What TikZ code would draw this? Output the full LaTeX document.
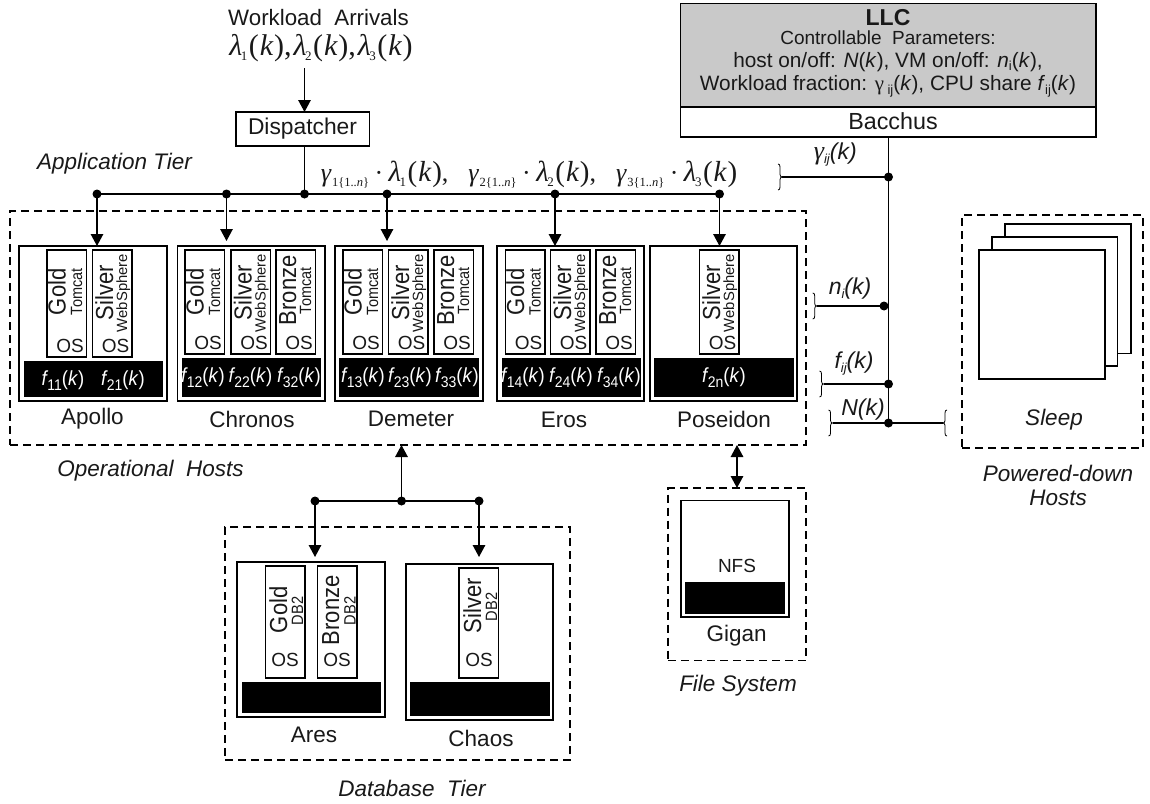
\documentclass[tikz,border=0pt]{standalone}
\usepackage{fontspec}
\usepackage{graphicx}
\setmainfont{Liberation Sans}
\newfontfamily\tms{Liberation Serif}
\usetikzlibrary{arrows.meta,fit}
\newcommand{\fz}[1]{\fontsize{#1}{#1}\selectfont}
% text helpers
\newcommand{\tall}[1]{\scalebox{1}[1.12]{#1}}
\newcommand{\fsub}[1]{\scalebox{1}[1.1]{\textit{f}\kern-1pt\raisebox{-4.5pt}{\fz{14}#1}(\textit{k})}}
\newcommand{\lam}[1]{{\tms\itshape λ}\kern-1.5pt\raisebox{-5pt}{\tms\fz{13}#1}\kern1.5pt{\tms(\kern1pt\itshape k\kern1pt\upshape)}}
\newcommand{\gam}[1]{{\tms\itshape γ}\kern1pt\raisebox{-5pt}{\tms\fz{12.5}#1\{1..\textit{n}\}}}
\newcommand{\gterm}[1]{\gam{#1}\kern5.5pt{\tms\textperiodcentered}\kern5.5pt{\fz{29}\lam{#1}}}
\tikzset{
  x=1pt,y=-1pt,
  line width=1.3pt,
  txt/.style={inner sep=0pt,outer sep=0pt,align=center,text=black!90},
  lab/.style={txt,font=\fz{22.5}},
  ital/.style={txt,font=\fz{22.5}\itshape},
  vmbox/.style={draw,fill=white,inner sep=0pt,outer sep=0pt,line width=1.1pt},
  hostbox/.style={draw,fill=white,inner sep=0pt,outer sep=0pt,line width=1.2pt},
  bar/.style={fill=black,inner sep=0pt,outer sep=0pt},
  dash box/.style={draw,dash pattern=on 8pt off 5pt,inner sep=0pt,outer sep=0pt,line width=1.1pt},
  bus/.style={line width=1.4pt},
  dotn/.style={circle,fill=black,inner sep=0pt,minimum size=9pt,outer sep=0pt},
  arr/.style={line width=1.4pt,-{Triangle[length=12pt,width=12.5pt]}},
  darr/.style={line width=1.4pt,{Triangle[length=12pt,width=12.5pt]}-{Triangle[length=12pt,width=12.5pt]}},
  brc/.style={line width=0.8pt},
  rottxt/.style={rotate=90,anchor=base west,inner sep=0pt,outer sep=0pt,text=black!90},
  ftxt/.style={inner sep=0pt,text=white,font=\fz{18.5}},
}
\newcommand{\rect}[6]{\node[#1,fit={(#3,#4) (#5,#6)}] (#2) {};}
% id, x, top, bot, os-x-offset, os-y
\newcommand{\vmrect}[6]{\node[vmbox,fit={(#2,#3) (#2+39.5,#4)}] (#1) {};
  \node[txt,font=\fz{19}] (#1os) at (#2+#5,#6) {OS};}
\newcommand{\goldvm}[4]{\vmrect{#1}{#2}{#3}{#4}{23}{#4-11}
  \node[rottxt,font=\fz{22}] (#1n) at (#2+18.5,#3+65) {\tall{Gold}};
  \node[rottxt,font=\fz{14.5}] (#1s) at (#2+35,#3+65) {\tall{Tomcat}};}
\newcommand{\silvervm}[4]{\vmrect{#1}{#2}{#3}{#4}{23}{#4-11}
  \node[rottxt,font=\fz{22}] (#1n) at (#2+20.5,#3+70) {\tall{Silver}};
  \node[rottxt,font=\fz{14.8}] (#1s) at (#2+34.5,#3+82) {WebSphere};}
\newcommand{\bronzevm}[4]{\vmrect{#1}{#2}{#3}{#4}{23}{#4-11}
  \node[rottxt,font=\fz{22}] (#1n) at (#2+20,#3+75) {\tall{Bronze}};
  \node[rottxt,font=\fz{14.5}] (#1s) at (#2+35,#3+64) {\tall{Tomcat}};}
% right-closing brace with tip at (#1,#2): direction +1 = }, -1 = {
\newcommand{\brc}[3]{\begin{scope}[shift={(#1,#2)},xscale=#3]
  \draw[brc] (-4,-13) .. controls (-2.6,-13) and (-2,-12) .. (-2,-10) -- (-2,-2.5)
     .. controls (-2,-1) and (-1,0) .. (0,0) .. controls (-1,0) and (-2,1) .. (-2,2.5)
     -- (-2,10) .. controls (-2,12) and (-2.6,13) .. (-4,13);
  \end{scope}}
\begin{document}
\begin{tikzpicture}
\useasboundingbox (0,0) rectangle (1150,803);
\fill[white] (0,0) rectangle (1150,803);

% --- top
\node[lab,font=\fz{22.3}] (arrivals) at (318.5,18) {Workload\ \ Arrivals};
\node[txt,font=\fz{30}] (lambdas) at (321,48) {\lam{1}{\tms,}\kern2pt\lam{2}{\tms,}\kern2pt\lam{3}};
\rect{draw,fill=white,inner sep=0pt,outer sep=0pt,line width=1.2pt}{disp}{236}{112}{369.5}{146}
\node[lab,font=\fz{22.8}] (displab) at (302.5,129) {Dispatcher};
\coordinate (arrtop) at (304.5,68);
\draw[arr] (arrtop) -- (arrtop |- disp.north);
\node[txt,font=\fz{26}] (gamline) at (529,175) {\gterm{1}{\tms,}\hspace{20pt}\gterm{2}{\tms,}\hspace{20pt}\gterm{3}};
\node[ital] (apptier) at (114.5,164) {Application Tier};

% --- LLC
\rect{draw,fill=black!21,inner sep=0pt,outer sep=0pt,line width=1.2pt}{llc}{680.5}{3.5}{1096}{107}
\rect{draw,fill=white,inner sep=0pt,outer sep=0pt,line width=1.2pt}{bacchus}{680.5}{107}{1096}{137}
\node[txt,font=\fz{23}\bfseries] (llcname) at (888,18) {LLC};
\node[txt,font=\fz{19}] (llc1) at (888,38) {Controllable\ \ Parameters:};
\node[txt,font=\fz{20.8}] (llc2) at (888,62) {host on/off: \textit{N}(\textit{k}), VM on/off: \textit{n}\raisebox{-3pt}{\fz{13}i}(\textit{k}),};
\node[txt,font=\fz{20.8}] (llc3) at (888,86) {Workload fraction: {\tms γ}\,\raisebox{-4pt}{\fz{13}ij}(\textit{k}), CPU share \textit{f}\raisebox{-4pt}{\fz{13}ij}(\textit{k})};
\node[lab,font=\fz{23.3}] (bacchuslab) at (893,121) {Bacchus};

% --- operational hosts
\node[dash box,fit={(10,211) (806,445)}] (ops) {};
\node[ital] (opslab) at (150.5,471) {Operational\ \ Hosts};

\rect{hostbox}{apollo}{19}{246}{167}{401}
\rect{hostbox}{chronos}{177.5}{246}{325}{401}
\rect{hostbox}{demeter}{335}{246}{483}{401}
\rect{hostbox}{eros}{497}{246}{644}{401}
\rect{hostbox}{poseidon}{650}{246}{797}{401}

\rect{bar}{bar1}{23.5}{361}{163}{397}
\rect{bar}{bar2}{181.5}{358}{321}{397}
\rect{bar}{bar3}{339}{358}{479}{397}
\rect{bar}{bar4}{501.5}{358}{641}{397}
\rect{bar}{bar5}{654}{358}{794}{397}

\goldvm{a1}{47}{250}{357}
\silvervm{a2}{92.5}{250}{357}
\goldvm{c1}{185}{250}{354}
\silvervm{c2}{231}{250}{354}
\bronzevm{c3}{276}{250}{354}
\goldvm{d1}{343}{250}{354}
\silvervm{d2}{388.5}{250}{354}
\bronzevm{d3}{434}{250}{354}
\goldvm{e1}{505.5}{250}{354}
\silvervm{e2}{550.5}{250}{354}
\bronzevm{e3}{596}{250}{354}
\silvervm{p1}{699.5}{250}{354}

\node[ftxt] (f11) at (63,381) {\fsub{11}};
\node[ftxt] (f21) at (123,381) {\fsub{21}};
\node[ftxt] (f12) at (203,378) {\fsub{12}};
\node[ftxt] (f22) at (250.5,378) {\fsub{22}};
\node[ftxt] (f32) at (299,378) {\fsub{32}};
\node[ftxt] (f13) at (363,378) {\fsub{13}};
\node[ftxt] (f23) at (410,378) {\fsub{23}};
\node[ftxt] (f33) at (457,378) {\fsub{33}};
\node[ftxt] (f14) at (523,378) {\fsub{14}};
\node[ftxt] (f24) at (571,378) {\fsub{24}};
\node[ftxt] (f34) at (619,378) {\fsub{34}};
\node[ftxt] (f2n) at (724,378) {\fsub{2n}};

\node[lab] (apollolab) at (92.5,419) {Apollo};
\node[lab] (chronoslab) at (252,419) {Chronos};
\node[lab] (demeterlab) at (411,419) {Demeter};
\node[lab] (eroslab) at (564,420) {Eros};
\node[lab] (poseidonlab) at (724,419) {Poseidon};

% --- application bus
\node[dotn] (b1) at (97,194) {};
\node[dotn] (b2) at (226.5,194) {};
\node[dotn] (b3) at (304.5,194) {};
\node[dotn] (b4) at (387,194) {};
\node[dotn] (b5) at (555,194) {};
\node[dotn] (b6) at (719.5,194) {};
\draw[bus] (b1.center) -- (b6.center);
\draw[bus] (disp.south -| b3) -- (b3.center);
\coordinate (t2) at (226.5,241);
\coordinate (t4) at (387,241);
\draw[arr] (b1.center) -- (b1 |- apollo.north);
\draw[arr] (b2.center) -- (t2);
\draw[arr] (b4.center) -- (t4);
\draw[arr] (b5.center) -- (b5 |- eros.north);
\draw[arr] (b6.center) -- (b6 |- poseidon.north);

% --- control line
\node[dotn] (g) at (888.5,177) {};
\node[dotn] (ni) at (884,306) {};
\node[dotn] (fij) at (888.5,384) {};
\node[dotn] (Nk) at (888.5,423) {};
\draw[bus] (bacchus.south -| g) -- (Nk.center);
\coordinate (gb) at (782,177);
\coordinate (nb) at (816.7,306);
\coordinate (fb) at (823.5,384);
\coordinate (Nb) at (832.5,423);
\coordinate (sb) at (943,423);
\draw[bus,line width=1.1pt] (gb) -- (g.center);
\draw[bus,line width=1.1pt] (nb) -- (ni.center);
\draw[bus,line width=1.1pt] (fb) -- (fij.center);
\draw[bus,line width=1.1pt] (Nb) -- (Nk.center) -- (sb);
\brc{782}{177}{1}
\brc{816.7}{306}{1}
\brc{823.5}{384}{1}
\brc{832.5}{423}{1}
\brc{943}{423}{-1}
\node[txt,font=\fz{23}\itshape] (glab) at (832,155) {{\tms\fz{26} γ}\raisebox{-4pt}{\fz{13}ij}(k)};
\node[txt,font=\fz{23}\itshape] (nlab) at (850,289) {n\raisebox{-4pt}{\fz{13}i}(k)};
\node[txt,font=\fz{23}\itshape] (flab) at (854,364) {f\raisebox{-4pt}{\fz{13}ij}(k)};
\node[txt,font=\fz{23}\itshape] (Nlab) at (863,410) {N(k)};

% --- sleep
\node[dash box,fit={(962,215) (1143,448)}] (sleepbox) {};
\rect{hostbox}{s3}{1005}{224}{1131}{353.5}
\rect{hostbox}{s2}{992}{237}{1117.5}{366}
\rect{hostbox}{s1}{979}{250}{1105}{379}
\node[ital] (sleeplab) at (1054,420) {Sleep};
\node[ital] (pwr) at (1058,473) {Powered-down};
\node[ital] (hosts) at (1058,498) {Hosts};

% --- database tier
\node[dash box,fit={(225,527) (570,760)}] (db) {};
\node[ital] (dblab) at (412,788) {Database\ \ Tier};
\rect{hostbox}{ares}{237}{562}{385}{717}
\rect{hostbox}{chaos}{406}{564}{553}{720}
\rect{bar}{bar6}{241.5}{682}{381}{713}
\rect{bar}{bar7}{410}{682}{550}{716}
\vmrect{v1}{265.5}{566}{678}{19.5}{660}
\node[rottxt,font=\fz{22}] (v1n) at (287,633) {\tall{Gold}};
\node[rottxt,font=\fz{14.6}] (v1s) at (303,625) {\tall{DB2}};
\vmrect{v2}{317.5}{566}{678}{19.5}{660}
\node[rottxt,font=\fz{22}] (v2n) at (339,645) {\tall{Bronze}};
\node[rottxt,font=\fz{14.6}] (v2s) at (355.5,625) {\tall{DB2}};
\vmrect{v3}{459}{568}{678}{20}{660}
\node[rottxt,font=\fz{22}] (v3n) at (481,633) {\tall{Silver}};
\node[rottxt,font=\fz{14.6}] (v3s) at (497,621) {\tall{DB2}};
\node[lab] (areslab) at (314,735) {Ares};
\node[lab] (chaoslab) at (481,738) {Chaos};

\node[dotn] (c1) at (315,501) {};
\node[dotn] (c2) at (401.5,501) {};
\node[dotn] (c3) at (479,501) {};
\draw[bus] (c1.center) -- (c3.center);
\draw[arr] (c2.center) -- (c2 |- ops.south);
\coordinate (ta) at (315,557);
\coordinate (tc) at (479,557);
\draw[arr] (c1.center) -- (ta);
\draw[arr] (c3.center) -- (tc);

% --- file system
\node[dash box,fit={(668,488) (806,660.5)}] (fs) {};
\rect{hostbox}{gigan}{681}{500.5}{789}{617}
\rect{bar}{bar8}{685}{582}{785}{614}
\node[txt,font=\fz{19}] (nfs) at (737,566) {NFS};
\node[lab] (giganlab) at (736.7,636) {Gigan};
\node[ital] (fslab) at (738,686) {File System};
\coordinate (fa) at (737,445);
\draw[darr] (fa) -- (fa |- fs.north);
\end{tikzpicture}
\end{document}
